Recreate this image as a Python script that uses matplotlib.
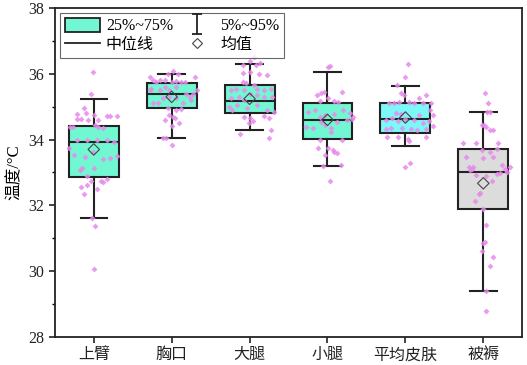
import matplotlib
matplotlib.use("Agg")
import matplotlib.pyplot as plt
from matplotlib.path import Path
from matplotlib.lines import Line2D
from matplotlib.patches import Patch

plt.rcParams['font.family'] = ['Liberation Serif', 'Noto Sans CJK SC', 'DejaVu Sans']
plt.rcParams['axes.unicode_minus'] = False

categories = ['上臂', '胸口', '大腿', '小腿', '平均皮肤', '被褥']
q1 = [32.87, 34.95, 34.80, 34.01, 34.21, 31.88]
q3 = [34.41, 35.73, 35.66, 35.10, 35.12, 33.71]
medians = [33.94, 35.39, 35.16, 34.60, 34.64, 33.00]
means = [33.70, 35.30, 35.24, 34.60, 34.67, 32.67]
p5 = [31.61, 34.05, 34.30, 33.21, 33.81, 29.39]
p95 = [35.23, 36.00, 36.30, 36.06, 35.64, 34.85]
box_colors = ['#72F7D3', '#72F7D3', '#72F7D3', '#72F7D3', '#7CF8F8', '#DCDCDC']

# raw points: (x offset within category, temperature)
pts_upper_arm = [(-0.01, 36.06), (-0.03, 35.38), (-0.13, 34.95), (-0.22, 34.78), (-0.17, 34.62),
                 (-0.08, 34.60), (0.0, 34.74), (0.06, 34.60), (0.17, 34.72), (0.30, 34.72),
                 (0.21, 34.72), (-0.30, 34.37), (-0.27, 34.39), (0.02, 34.43), (0.06, 34.37),
                 (0.12, 34.35), (-0.32, 33.74), (-0.21, 33.99), (-0.09, 33.99), (0.04, 33.99),
                 (0.17, 33.99), (0.26, 33.94), (-0.26, 33.53), (-0.11, 33.48), (-0.01, 33.61),
                 (0.12, 33.41), (0.21, 33.45), (0.30, 33.50), (-0.15, 33.13), (-0.18, 33.08),
                 (0.0, 33.15), (-0.09, 32.89), (-0.04, 32.73), (0.09, 32.75), (0.12, 32.72),
                 (0.17, 32.79), (-0.17, 32.57), (-0.09, 32.63), (0.04, 32.49), (-0.13, 32.35),
                 (-0.02, 31.63), (0.02, 31.37), (0.0, 30.06), (-0.22, 34.63), (-0.10, 34.80)]
pts_chest = [(0.02, 36.09), (-0.05, 35.99), (0.08, 35.99), (-0.28, 35.89), (-0.24, 35.81),
             (-0.20, 35.76), (-0.15, 35.81), (-0.09, 35.81), (0.0, 35.76), (0.06, 35.79),
             (0.12, 35.76), (0.17, 35.76), (0.30, 35.89), (-0.28, 35.51), (-0.26, 35.53),
             (-0.15, 35.51), (-0.09, 35.61), (-0.03, 35.51), (0.06, 35.61), (0.19, 35.40),
             (0.27, 35.40), (0.32, 35.51), (-0.24, 35.12), (-0.18, 35.12), (-0.11, 35.25),
             (-0.03, 35.30), (0.06, 35.25), (0.23, 35.30), (0.25, 35.20), (0.15, 35.10),
             (-0.05, 34.95), (0.06, 34.90), (0.12, 34.92), (-0.03, 34.75), (0.02, 34.70),
             (0.04, 34.65), (-0.09, 34.60), (0.10, 34.50), (0.0, 34.40), (-0.11, 34.06),
             (-0.07, 34.04), (0.01, 33.84)]
pts_thigh = [(0.06, 36.50), (0.0, 36.40), (0.13, 36.33), (-0.08, 36.27), (0.08, 36.27),
             (-0.09, 36.02), (0.01, 36.07), (0.12, 36.00), (0.23, 35.95), (-0.09, 35.76),
             (-0.05, 35.72), (-0.24, 35.51), (-0.18, 35.55), (-0.07, 35.51), (0.10, 35.53),
             (0.18, 35.51), (0.27, 35.55), (0.06, 35.66), (-0.24, 35.25), (-0.14, 35.30),
             (0.01, 35.40), (0.10, 35.35), (0.18, 35.30), (0.29, 35.30), (-0.07, 35.20),
             (-0.26, 35.00), (-0.22, 34.90), (-0.16, 35.05), (0.10, 35.05), (0.23, 34.90),
             (0.31, 34.85), (-0.03, 34.95), (-0.07, 34.70), (0.01, 34.65), (0.05, 34.55),
             (0.18, 34.72), (0.25, 34.65), (-0.01, 34.50), (-0.12, 34.17), (0.27, 34.29),
             (0.25, 34.04)]
pts_calf = [(0.01, 36.22), (0.03, 36.24), (-0.14, 35.36), (-0.08, 35.43), (-0.04, 35.46),
            (0.19, 35.46), (0.01, 35.26), (0.09, 35.16), (0.14, 35.14), (-0.10, 35.16),
            (-0.25, 34.85), (-0.16, 34.90), (-0.10, 34.70), (-0.03, 34.75), (0.09, 34.78),
            (0.20, 34.90), (0.29, 34.80), (0.33, 34.70), (-0.27, 34.39), (-0.18, 34.36),
            (-0.03, 34.44), (0.05, 34.34), (0.12, 34.54), (0.25, 34.59), (0.31, 34.64),
            (-0.08, 34.54), (0.05, 34.24), (-0.10, 33.99), (0.18, 33.99), (-0.12, 33.73),
            (0.01, 33.73), (0.07, 33.68), (0.12, 33.58), (-0.03, 33.53), (0.09, 33.63),
            (-0.06, 33.20), (0.17, 33.23), (0.03, 32.75)]
pts_mean_skin = [(0.03, 36.29), (0.0, 35.89), (-0.11, 35.66), (-0.06, 35.43), (-0.02, 35.36),
                 (0.26, 35.36), (0.18, 35.26), (-0.21, 35.12), (-0.15, 35.12), (-0.08, 35.15),
                 (0.05, 35.15), (0.11, 35.10), (0.22, 35.12), (0.33, 35.12), (-0.12, 34.80),
                 (-0.06, 34.77), (0.18, 34.75), (0.31, 34.90), (0.35, 34.75), (-0.17, 34.65),
                 (-0.25, 34.60), (-0.10, 34.55), (0.0, 34.62), (0.11, 34.60), (0.30, 34.55),
                 (0.22, 34.50), (-0.25, 34.31), (-0.19, 34.36), (-0.04, 34.36), (0.07, 34.31),
                 (0.15, 34.29), (0.26, 34.31), (0.35, 34.41), (-0.23, 34.07), (-0.10, 34.07),
                 (0.03, 34.02), (0.04, 33.95), (0.26, 34.07), (0.0, 33.18), (0.06, 33.28)]
pts_bedding = [(0.02, 35.41), (0.06, 35.10), (0.05, 34.85), (0.09, 34.85), (-0.02, 34.44),
               (0.01, 34.44), (0.12, 34.29), (-0.26, 33.91), (0.19, 33.91), (-0.02, 33.68),
               (0.09, 33.63), (0.17, 33.71), (-0.22, 33.48), (0.0, 33.43), (0.13, 33.46),
               (-0.13, 33.18), (-0.15, 33.12), (-0.17, 33.06), (-0.19, 33.16), (0.24, 33.22),
               (0.28, 33.12), (0.34, 33.16), (0.31, 33.00), (-0.09, 32.92), (0.04, 32.88),
               (0.11, 32.75), (0.17, 32.95), (0.21, 32.99), (-0.04, 32.37), (-0.06, 32.33),
               (-0.11, 32.12), (0.0, 31.88), (0.04, 31.40), (0.02, 30.90), (0.0, 30.86),
               (-0.02, 30.62), (0.12, 30.44), (0.08, 30.16), (0.04, 29.41), (0.04, 28.80),
               (0.04, 34.39), (0.08, 34.29), (-0.09, 33.91)]
all_points = [pts_upper_arm, pts_chest, pts_thigh, pts_calf, pts_mean_skin, pts_bedding]

fig = plt.figure(figsize=(5.27, 3.65), dpi=100)
ax = fig.add_axes([0.104, 0.077, 0.887, 0.901])

positions = list(range(1, len(categories) + 1))
stats = []
for i in range(len(categories)):
    stats.append(dict(med=medians[i], q1=q1[i], q3=q3[i], whislo=p5[i], whishi=p95[i],
                      mean=means[i], fliers=[], label=categories[i]))

bp = ax.bxp(stats, positions=positions, widths=0.64, patch_artist=True, showmeans=False,
            showfliers=False,
            boxprops=dict(edgecolor='#222222', linewidth=1.5),
            medianprops=dict(color='#222222', linewidth=1.5),
            whiskerprops=dict(color='#222222', linewidth=1.5),
            capprops=dict(color='#222222', linewidth=1.5),
            capwidths=0.34)
for patch, c in zip(bp['boxes'], box_colors):
    patch.set_facecolor(c)
    patch.set_zorder(2)

for pos, pts in zip(positions, all_points):
    xs = [pos + dx for dx, _ in pts]
    ys = [v for _, v in pts]
    ax.scatter(xs, ys, marker='D', s=9, color='#E68BEA', alpha=0.85, linewidths=0, zorder=3)

ax.scatter(positions, means, marker='D', s=34, facecolors='none', edgecolors='#444444',
           linewidths=0.8, zorder=4)

ax.set_xlim(0.5, 6.5)
ax.set_ylim(28, 38)
ax.set_yticks([28, 30, 32, 34, 36, 38])
ax.set_yticks([29, 31, 33, 35, 37], minor=True)
ax.set_xticks(positions)
ax.set_xticklabels(categories)
ax.tick_params(axis='both', which='major', direction='out', length=4, width=1.2, labelsize=11.5,
               colors='#222222')
ax.tick_params(axis='y', which='minor', direction='out', length=2.5, width=1.0)
for sp in ax.spines.values():
    sp.set_linewidth(1.3)
    sp.set_color('#222222')
ax.set_ylabel('温度/°C', fontsize=12)

# legend
whisker_path = Path([(-0.5, 1), (0.5, 1), (0, 1), (0, -1), (-0.5, -1), (0.5, -1)],
                    [Path.MOVETO, Path.LINETO, Path.MOVETO, Path.LINETO, Path.MOVETO, Path.LINETO])
h_box = Patch(facecolor=box_colors[0], edgecolor='#222222', linewidth=1.3)
h_whisk = Line2D([], [], linestyle='none', marker=whisker_path, markersize=14,
                 markeredgecolor='#222222', markerfacecolor='none', markeredgewidth=1.3)
h_med = Line2D([], [], color='#222222', linewidth=1.3)
h_mean = Line2D([], [], linestyle='none', marker='D', markersize=5, markerfacecolor='none',
                markeredgecolor='#444444', markeredgewidth=0.8)
leg = ax.legend([h_box, h_med, h_whisk, h_mean], ['25%~75%', '中位线', '5%~95%', '均值'],
                ncol=2, loc='upper left', bbox_to_anchor=(0.005, 0.995), fontsize=11.5,
                frameon=True, fancybox=False, edgecolor='#444444', borderpad=0.3,
                handlelength=2.2, handleheight=1.0, columnspacing=0.4, labelspacing=0.15,
                handletextpad=0.35, borderaxespad=0.2)
leg.get_frame().set_linewidth(0.8)

fig.savefig('out.png', dpi=100)
